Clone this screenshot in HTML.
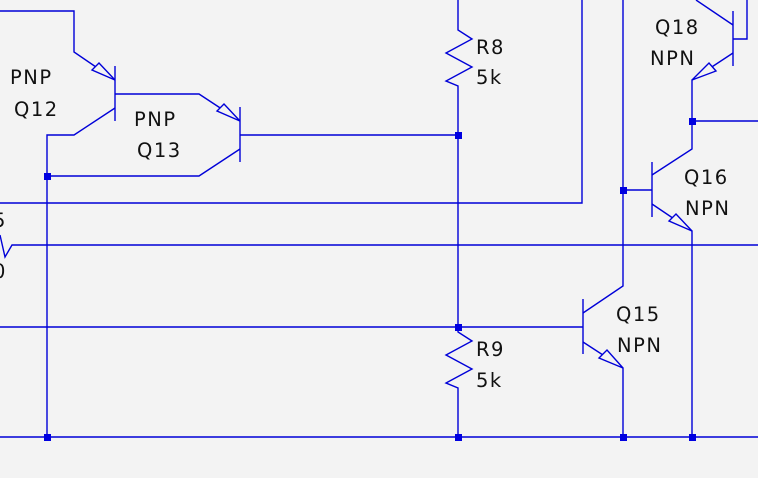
<!DOCTYPE html>
<html><head><meta charset="utf-8"><style>
html,body{margin:0;padding:0;background:#f3f3f3;}
svg{display:block}
text{font-family:"DejaVu Sans","Liberation Sans",sans-serif;font-size:19.5px;fill:#111;letter-spacing:1.5px}
</style></head><body>
<svg width="758" height="478" viewBox="0 0 758 478">
<g stroke="#0000d8" stroke-width="1.4" fill="none">
<polyline points="0,11 74,11 74,52 115,80"/>
<line x1="115" y1="66" x2="115" y2="121"/>
<polyline points="115,94 199,94 240,121"/>
<polyline points="115,108 74,135 47,135 47,437"/>
<polygon points="115,80 92,70 99,63" fill="#f3f3f3"/>
<line x1="240" y1="107" x2="240" y2="162"/>
<line x1="240" y1="135" x2="458" y2="135"/>
<polyline points="240,149 199,176 47,176"/>
<polygon points="240,121 217,111 224,104" fill="#f3f3f3"/>
<polyline points="0,203 582,203 582,0"/>
<polyline points="0,235 5,257 12,245 758,245"/>
<line x1="0" y1="327" x2="583" y2="327"/>
<line x1="0" y1="437" x2="758" y2="437"/>
<polyline points="458,0 458,30 472,39 446,53 472,67 446,81 458,86 458,332 472,341 446,355 472,369 446,383 458,388 458,437"/>
<line x1="583" y1="299" x2="583" y2="354"/>
<polyline points="583,313 623,286 623,0"/>
<polyline points="583,342 623,368 623,437"/>
<polygon points="623,368 599,358 607,350" fill="#f3f3f3"/>
<line x1="652" y1="162" x2="652" y2="217"/>
<line x1="623" y1="190" x2="652" y2="190"/>
<polyline points="652,175 692,149 692,80 733,53"/>
<polyline points="652,204 692,231 692,437"/>
<polygon points="692,231 669,221 676,214" fill="#f3f3f3"/>
<line x1="692" y1="121" x2="758" y2="121"/>
<line x1="733" y1="11" x2="733" y2="66"/>
<line x1="696" y1="0" x2="733" y2="25"/>
<polyline points="733,39 747,39 747,0"/>
<polygon points="692,80 716,71 709,63" fill="#f3f3f3"/>
</g>
<g fill="#0000e0">
<rect x="44" y="173" width="7" height="7"/>
<rect x="455" y="132" width="7" height="7"/>
<rect x="455" y="324" width="7" height="7"/>
<rect x="44" y="434" width="7" height="7"/>
<rect x="455" y="434" width="7" height="7"/>
<rect x="620" y="434" width="7" height="7"/>
<rect x="689" y="434" width="7" height="7"/>
<rect x="620" y="187" width="7" height="7"/>
<rect x="689" y="118" width="7" height="7"/>
</g>
<text x="10" y="84">PNP</text>
<text x="14" y="116">Q12</text>
<text x="134" y="126">PNP</text>
<text x="137" y="157">Q13</text>
<text x="-7" y="227">5</text>
<text x="-7" y="278">0</text>
<text x="476" y="54">R8</text>
<text x="476" y="84">5k</text>
<text x="476" y="356">R9</text>
<text x="476" y="387">5k</text>
<text x="616" y="321">Q15</text>
<text x="617" y="352">NPN</text>
<text x="684" y="184">Q16</text>
<text x="685" y="215">NPN</text>
<text x="655" y="34">Q18</text>
<text x="650" y="65">NPN</text>
</svg>
</body></html>
